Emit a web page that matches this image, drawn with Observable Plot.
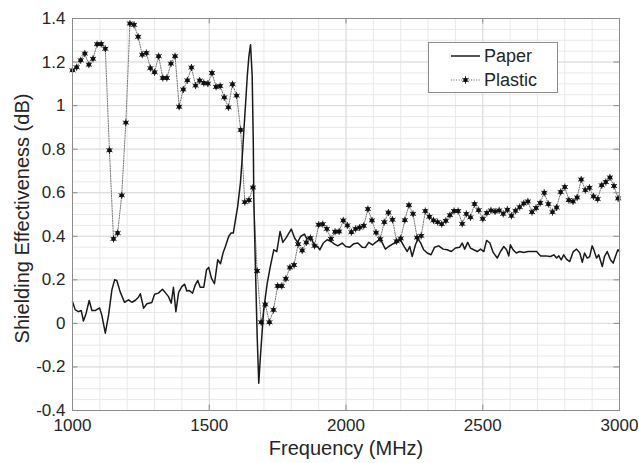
<!DOCTYPE html>
<html><head><meta charset="utf-8">
<script src="https://cdn.jsdelivr.net/npm/d3@7"></script>
<script src="https://cdn.jsdelivr.net/npm/@observablehq/plot@0.6"></script>
<style>
body{margin:0;background:#fff;font-family:Arial,"Liberation Sans",Helvetica,sans-serif;}
#wrap{position:relative;width:639px;height:463px;}
#legend{position:absolute;left:428px;top:42px;}
</style></head><body><div id="wrap"></div>
<script>
// Paper series (frequency MHz, SE dB)
const paperFreq=[1000,1010,1022,1032,1040,1050,1061,1071,1083,1099,1107,1120,1132,1144,1154,1162,1174,1190,1205,1217,1229,1241,1248,1260,1272,1290,1300,1314,1329,1341,1351,1361,1369,1378,1388,1400,1410,1418,1427,1439,1449,1458,1467,1480,1490,1498,1508,1519,1531,1541,1551,1559,1571,1580,1588,1596,1604,1614,1620,1626,1633,1639,1645,1651,1657,1661,1663,1669,1675,1681,1687,1699,1712,1724,1736,1747,1759,1769,1782,1800,1812,1823,1834,1848,1857,1870,1885,1897,1904,1917,1931,1946,1958,1970,1986,1999,2014,2029,2043,2059,2071,2083,2097,2108,2126,2144,2156,2173,2187,2199,2214,2224,2233,2242,2254,2263,2272,2284,2297,2311,2324,2339,2355,2370,2385,2400,2416,2425,2434,2445,2455,2467,2480,2492,2504,2514,2526,2538,2553,2565,2577,2587,2595,2601,2611,2623,2635,2650,2665,2681,2697,2711,2729,2748,2760,2770,2778,2787,2796,2806,2818,2831,2843,2855,2864,2872,2882,2891,2900,2906,2916,2924,2937,2945,2955,2967,2977,2985,2994,3000];
const paperSE=[0.100,0.062,0.054,0.059,0.011,0.047,0.105,0.059,0.059,0.071,0.039,-0.045,0.039,0.154,0.200,0.197,0.146,0.097,0.108,0.097,0.105,0.120,0.136,0.070,0.090,0.096,0.134,0.139,0.157,0.139,0.123,0.093,0.166,0.054,0.142,0.169,0.180,0.149,0.151,0.139,0.177,0.197,0.166,0.166,0.246,0.257,0.208,0.182,0.292,0.274,0.326,0.353,0.399,0.415,0.415,0.476,0.537,0.645,0.752,0.874,1.012,1.135,1.227,1.280,1.135,0.830,0.568,0.250,-0.050,-0.275,-0.153,0.062,0.185,0.265,0.338,0.330,0.422,0.372,0.395,0.433,0.392,0.372,0.399,0.410,0.388,0.399,0.356,0.353,0.338,0.369,0.384,0.376,0.364,0.356,0.369,0.353,0.350,0.366,0.369,0.350,0.349,0.372,0.360,0.372,0.387,0.341,0.353,0.366,0.372,0.384,0.350,0.330,0.353,0.307,0.361,0.387,0.372,0.338,0.323,0.315,0.350,0.356,0.341,0.338,0.330,0.346,0.350,0.369,0.341,0.372,0.346,0.338,0.330,0.341,0.330,0.381,0.369,0.326,0.300,0.330,0.353,0.338,0.310,0.361,0.338,0.323,0.330,0.326,0.330,0.330,0.330,0.310,0.310,0.307,0.315,0.300,0.310,0.292,0.315,0.295,0.284,0.330,0.341,0.323,0.280,0.323,0.300,0.307,0.356,0.338,0.300,0.315,0.261,0.307,0.330,0.292,0.277,0.307,0.338,0.330];
// Plastic series
const plasticFreq=[1000,1015,1030,1045,1060,1075,1090,1105,1120,1135,1150,1165,1180,1195,1210,1225,1240,1255,1270,1285,1300,1315,1330,1345,1360,1375,1390,1405,1420,1435,1450,1465,1480,1495,1510,1525,1540,1555,1570,1585,1600,1615,1630,1645,1660,1675,1690,1705,1720,1735,1750,1765,1780,1795,1810,1825,1840,1855,1870,1885,1900,1915,1930,1945,1960,1975,1990,2005,2020,2035,2050,2065,2080,2095,2110,2125,2140,2155,2170,2185,2200,2215,2230,2245,2260,2275,2290,2305,2320,2335,2350,2365,2380,2395,2410,2425,2440,2455,2470,2485,2500,2515,2530,2545,2560,2575,2590,2605,2620,2635,2650,2665,2680,2695,2710,2725,2740,2755,2770,2785,2800,2815,2830,2845,2860,2875,2890,2905,2920,2935,2950,2965,2980,2995];
const plasticSE=[1.162,1.176,1.208,1.239,1.188,1.215,1.282,1.283,1.261,0.795,
0.388,0.415,0.588,0.922,1.377,1.371,1.316,1.234,1.242,1.172,
1.153,1.227,1.127,1.127,1.193,1.227,0.995,1.074,1.116,1.175,
1.092,1.115,1.104,1.101,1.150,1.086,1.090,1.038,0.992,1.098,
1.046,0.888,0.557,0.566,0.624,0.241,0.005,0.087,0.005,0.062,
0.172,0.172,0.205,0.257,0.268,0.364,0.335,0.372,0.392,0.356,
0.453,0.456,0.434,0.388,0.421,0.422,0.473,0.450,0.419,0.434,
0.440,0.448,0.525,0.473,0.417,0.387,0.465,0.509,0.476,0.377,
0.390,0.474,0.543,0.503,0.394,0.402,0.516,0.490,0.473,0.465,
0.456,0.471,0.497,0.516,0.516,0.457,0.503,0.487,0.548,0.520,
0.480,0.507,0.519,0.514,0.519,0.503,0.522,0.494,0.517,0.534,
0.551,0.560,0.511,0.530,0.553,0.600,0.548,0.511,0.532,0.603,
0.626,0.566,0.560,0.578,0.661,0.612,0.623,0.583,0.571,0.634,
0.649,0.670,0.631,0.574];
const seriesNames=["Paper","Plastic"];
const xTicks=[1000,1500,2000,2500,3000];
const yTicks=[-0.4,-0.2,0,0.2,0.4,0.6,0.8,1,1.2,1.4];
const xLabel="Frequency (MHz)";
const yLabel="Shielding Effectiveness (dB)";

const paper=paperFreq.map((f,i)=>({f,v:paperSE[i]}));
const plastic=plasticFreq.map((f,i)=>({f,v:plasticSE[i]}));
const xMinor=d3.range(1000,3001,100);
const yMinor=d3.range(-8,29).map(k=>+(k*0.05).toFixed(2));
const fmt=d=>String(d);
const ink="#262626";

const chart=Plot.plot({
  width:639,height:463,
  marginLeft:72,marginRight:20,marginTop:18,marginBottom:53,
  style:{fontFamily:'Arial,"Liberation Sans",Helvetica,sans-serif',background:"#fff"},
  x:{domain:[1000,3000]},
  y:{domain:[-0.4,1.4]},
  marks:[
    Plot.ruleX(xMinor,{stroke:"#e9e9e9",strokeWidth:1}),
    Plot.ruleY(yMinor,{stroke:"#e9e9e9",strokeWidth:1}),
    Plot.ruleX(xTicks,{stroke:"#dcdcdc",strokeWidth:1}),
    Plot.ruleY(yTicks,{stroke:"#dcdcdc",strokeWidth:1}),
    Plot.line(plastic,{x:"f",y:"v",stroke:"#777",strokeWidth:1,strokeDasharray:"1.2,1.3"}),
    Plot.line(paper,{x:"f",y:"v",stroke:"#1a1a1a",strokeWidth:1.5}),
    Plot.dot(plastic,{x:"f",y:"v",r:2.2,fill:"#111",stroke:"none"}),
    Plot.dot(plastic,{x:"f",y:"v",symbol:"asterisk",r:3.3,stroke:"#111",strokeWidth:0.9}),
    Plot.frame({stroke:"#8c8c8c",strokeWidth:1}),
    Plot.ruleX(xTicks,{y1:-0.4,y2:-0.375,stroke:"#8c8c8c"}),
    Plot.ruleX(xTicks,{y1:1.4,y2:1.375,stroke:"#8c8c8c"}),
    Plot.ruleY(yTicks,{x1:1000,x2:1020,stroke:"#8c8c8c"}),
    Plot.ruleY(yTicks,{x1:3000,x2:2980,stroke:"#8c8c8c"}),
    Plot.axisX({ticks:xTicks,tickSize:0,tickPadding:8,fontSize:17,tickFormat:fmt,label:null,fill:ink}),
    Plot.axisY({ticks:yTicks,tickSize:0,tickPadding:7,fontSize:17,tickFormat:fmt,label:null,fill:ink}),
    Plot.text([xLabel],{text:d=>d,frameAnchor:"bottom",dy:38,fontSize:20,lineAnchor:"middle",fill:ink}),
    Plot.text([yLabel],{text:d=>d,frameAnchor:"left",dx:-50,dy:4,rotate:-90,fontSize:20,textAnchor:"middle",lineAnchor:"middle",fill:ink})
  ]
});
const wrap=document.getElementById("wrap");
wrap.appendChild(chart);

// legend
const lg=d3.select(wrap).append("svg").attr("id","legend").attr("width",131).attr("height",52)
  .style("position","absolute").style("left","428px").style("top","42px");
lg.append("rect").attr("x",0.5).attr("y",0.5).attr("width",129).attr("height",50).attr("fill","#fff").attr("stroke","#8c8c8c");
const rows=[14,38];
lg.append("line").attr("x1",23).attr("x2",52).attr("y1",rows[0]).attr("y2",rows[0]).attr("stroke","#1a1a1a").attr("stroke-width",1.5);
lg.append("line").attr("x1",23).attr("x2",52).attr("y1",rows[1]).attr("y2",rows[1]).attr("stroke","#777").attr("stroke-dasharray","1.2,1.3");
lg.append("circle").attr("cx",37.5).attr("cy",rows[1]).attr("r",2.2).attr("fill","#111");
lg.append("path").attr("transform",`translate(37.5,${rows[1]})`).attr("d",d3.symbol(d3.symbolAsterisk,40)()).attr("stroke","#111").attr("stroke-width",0.9);
seriesNames.forEach((n,i)=>{
  lg.append("text").attr("x",56).attr("y",rows[i]).attr("dy","0.35em").attr("font-size",18).attr("fill",ink)
    .attr("font-family",'Arial,"Liberation Sans",Helvetica,sans-serif').text(n);
});
</script></body></html>
